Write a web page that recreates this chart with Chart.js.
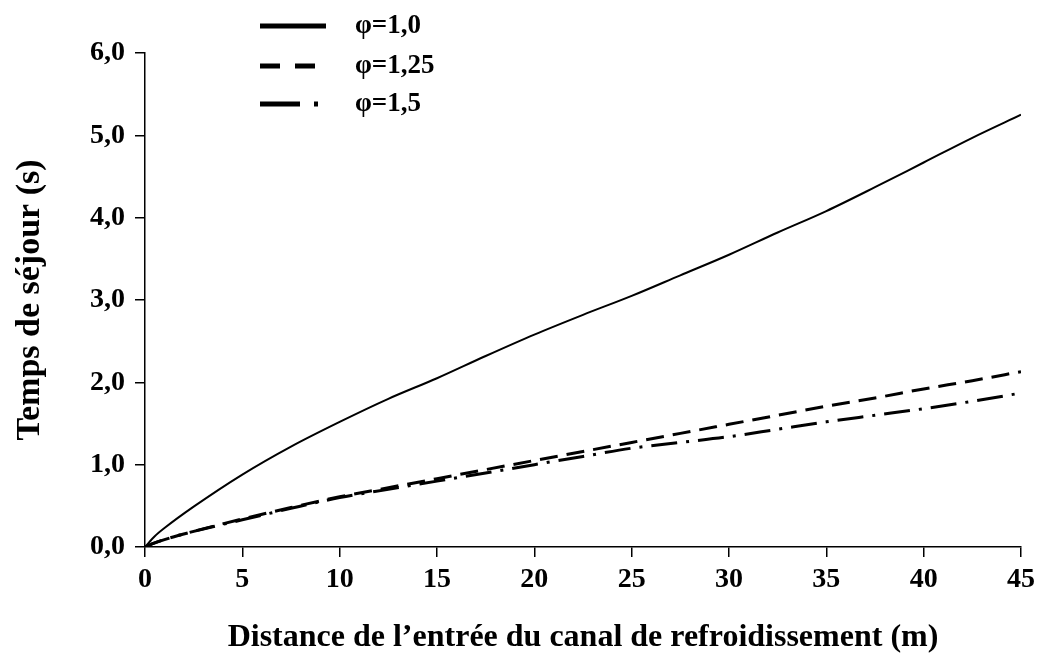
<!DOCTYPE html>
<html>
<head>
<meta charset="utf-8">
<script src="https://cdn.jsdelivr.net/npm/chart.js@4"></script>
<style>
  html, body { margin: 0; padding: 0; background: #fff; }
  #wrap { width: 1041px; height: 659px; }
</style>
</head>
<body>
<div id="wrap"><canvas id="myChart" width="1041" height="659"></canvas></div>
<script>
// distance (m) et temps de sejour (s)
const distance = [0, 0.5, 1, 2.5, 5, 7.5, 10, 12.5, 15, 17.5, 20, 22.5, 25, 27.5, 30, 32.5, 35, 37.5, 40, 42.5, 45];
const phi10  = [0, 0.13, 0.23, 0.49, 0.88, 1.22, 1.52, 1.80, 2.05, 2.32, 2.58, 2.82, 3.05, 3.30, 3.55, 3.82, 4.08, 4.37, 4.67, 4.97, 5.25];
const phi125 = [0, 0.05, 0.09, 0.19, 0.34, 0.48, 0.61, 0.72, 0.83, 0.94, 1.05, 1.16, 1.27, 1.38, 1.49, 1.60, 1.71, 1.81, 1.92, 2.02, 2.13];
const phi15  = [0, 0.05, 0.09, 0.19, 0.33, 0.47, 0.60, 0.70, 0.80, 0.90, 1.00, 1.10, 1.20, 1.27, 1.34, 1.43, 1.52, 1.60, 1.68, 1.77, 1.87];
const etiquettes = ['φ=1,0', 'φ=1,25', 'φ=1,5'];

const police = '"Liberation Serif", "Times New Roman", serif';

function points(vals) {
    return distance.map((d, i) => ({ x: d, y: vals[i] }));
}

// legende dessinee a la main (elle chevauche la zone du graphique)
const legendePlugin = {
    id: 'legendePerso',
    afterDraw(chart) {
        const ctx = chart.ctx;
        const lignes = [26, 66, 104];
        ctx.save();
        chart.data.datasets.forEach((ds, i) => {
            const y = lignes[i];
            ctx.beginPath();
            ctx.strokeStyle = '#000';
            ctx.lineWidth = 5;
            ctx.setLineDash(ds.legendDash);
            ctx.moveTo(260, y);
            ctx.lineTo(ds.legendEnd, y);
            ctx.stroke();
            ctx.setLineDash([]);
            ctx.fillStyle = '#000';
            ctx.font = 'bold 27px ' + police;
            ctx.textBaseline = 'middle';
            ctx.fillText(ds.label, 355, y);
        });
        ctx.restore();
    }
};

const ctx = document.getElementById('myChart').getContext('2d');
const myChart = new Chart(ctx, {
    type: 'line',
    data: {
        datasets: [{
            label: etiquettes[0],
            data: points(phi10),
            borderColor: '#000',
            borderWidth: 2,
            borderDash: [],
            legendDash: [],
            legendEnd: 326,
            pointRadius: 0,
            cubicInterpolationMode: 'monotone'
        }, {
            label: etiquettes[1],
            data: points(phi125),
            borderColor: '#000',
            borderWidth: 3,
            borderDash: [18, 9],
            legendDash: [20, 15],
            legendEnd: 315,
            pointRadius: 0,
            cubicInterpolationMode: 'monotone'
        }, {
            label: etiquettes[2],
            data: points(phi15),
            borderColor: '#000',
            borderWidth: 3,
            borderDash: [26, 9, 3, 9],
            legendDash: [40, 14, 4, 100],
            legendEnd: 322,
            pointRadius: 0,
            cubicInterpolationMode: 'monotone'
        }]
    },
    options: {
        responsive: false,
        animation: false,
        layout: { padding: { top: 53, right: 16, left: 0, bottom: 2 } },
        plugins: {
            legend: { display: false },
            tooltip: { enabled: false }
        },
        scales: {
            x: {
                type: 'linear',
                min: 0,
                max: 45,
                afterFit: s => { s.height = 110; },
                border: { display: true, color: '#000', width: 1.5 },
                grid: { drawOnChartArea: false, drawTicks: true, tickLength: 10, color: '#000', lineWidth: 1.5 },
                ticks: {
                    stepSize: 5,
                    color: '#000',
                    padding: 6,
                    font: { family: police, size: 28, weight: 'bold' }
                },
                title: {
                    display: true,
                    text: 'Distance de l\u2019entrée du canal de refroidissement (m)',
                    color: '#000',
                    padding: { top: 10, bottom: 0 },
                    font: { family: police, size: 32, weight: 'bold' }
                }
            },
            y: {
                min: 0,
                max: 6,
                afterFit: s => { s.width = 145; },
                border: { display: true, color: '#000', width: 1.5 },
                grid: { drawOnChartArea: false, drawTicks: true, tickLength: 10, color: '#000', lineWidth: 1.5 },
                ticks: {
                    stepSize: 1,
                    color: '#000',
                    padding: 10,
                    font: { family: police, size: 28, weight: 'bold' },
                    callback: v => v.toFixed(1).replace('.', ',')
                },
                title: {
                    display: true,
                    text: 'Temps de séjour (s)',
                    color: '#000',
                    padding: { top: 10, bottom: 0 },
                    font: { family: police, size: 34, weight: 'bold' }
                }
            }
        }
    },
    plugins: [legendePlugin]
});
</script>
</body>
</html>
